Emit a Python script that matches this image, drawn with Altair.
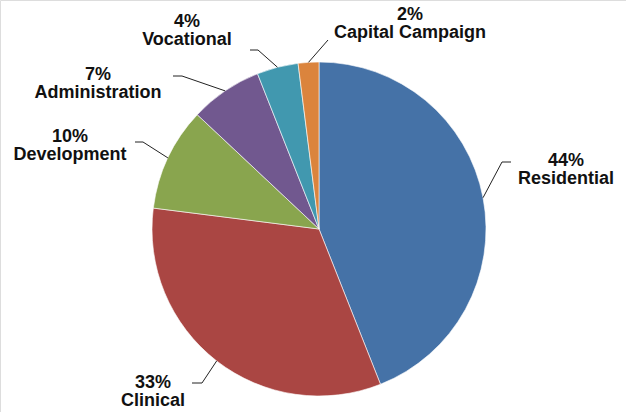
import math
import altair as alt
import pandas as pd

# ---- data ----
categories = ["Residential", "Clinical", "Development", "Administration", "Vocational", "Capital Campaign"]
shares = [44, 33, 10, 7, 4, 2]
pct_labels = ["44%", "33%", "10%", "7%", "4%", "2%"]
colors = ["#4572A7", "#AA4643", "#89A54E", "#71588F", "#4198AF", "#DB843D"]

# ---- layout (pixels) ----
CX, CY, R = 319, 229, 167
label_x = [566, 153, 70, 98, 187, 410]
label_y = [161, 383, 137, 75, 22, 15]   # first line of each label
elbow_x = [502, 202, 143, 182, 258, 328]
elbow_y = [162, 383, 142, 76, 50, 40]
end_x = [511, 192, 135, 173, 250, 328]
end_y = [162, 383, 142, 76, 50, 40]

pie_df = pd.DataFrame({"cat": categories, "share": shares, "idx": list(range(len(categories)))})

arc = alt.Chart(pie_df).mark_arc(radius=R, stroke="white", strokeWidth=0.6).encode(
    theta=alt.Theta("share:Q", stack=True),
    order=alt.Order("idx:Q", sort="ascending"),
    color=alt.Color("cat:N", scale=alt.Scale(domain=categories, range=colors), legend=None),
    x=alt.value(CX),
    y=alt.value(CY),
)

# leader lines: start at slice midpoint on the rim (computed from the shares)
rows = []
total = sum(shares)
cum = 0.0
for i, (c, s) in enumerate(zip(categories, shares)):
    mid = (cum + s / 2) / total * 2 * math.pi
    cum += s
    sx = CX + R * math.sin(mid)
    sy = CY - R * math.cos(mid)
    pts = [(sx, sy), (elbow_x[i], elbow_y[i]), (end_x[i], end_y[i])]
    for k, (px, py) in enumerate(pts):
        rows.append({"cat": c, "k": k, "px": px, "py": py})
lines_df = pd.DataFrame(rows)

leaders = alt.Chart(lines_df).mark_line(color="#222222", strokeWidth=1).encode(
    x=alt.X("px:Q", scale=None),
    y=alt.Y("py:Q", scale=None),
    detail="cat:N",
    order="k:Q",
)

lab_df = pd.DataFrame({
    "txt": [p + "\n" + c for p, c in zip(pct_labels, categories)],
    "lx": label_x,
    "ly": label_y,
})
labels = alt.Chart(lab_df).mark_text(
    font="Liberation Sans", fontWeight="bold", fontSize=18, lineBreak="\n",
    lineHeight=18, align="center", baseline="middle", color="#111111",
).encode(
    x=alt.X("lx:Q", scale=None),
    y=alt.Y("ly:Q", scale=None),
    text="txt:N",
)

chart = alt.layer(arc, leaders, labels).properties(
    width=626, height=412, autosize=alt.AutoSizeParams(type="none"), padding=0,
).configure_view(stroke=None).configure(background="white")

chart.save("out.html", embed_options={"renderer": "svg", "actions": False})
